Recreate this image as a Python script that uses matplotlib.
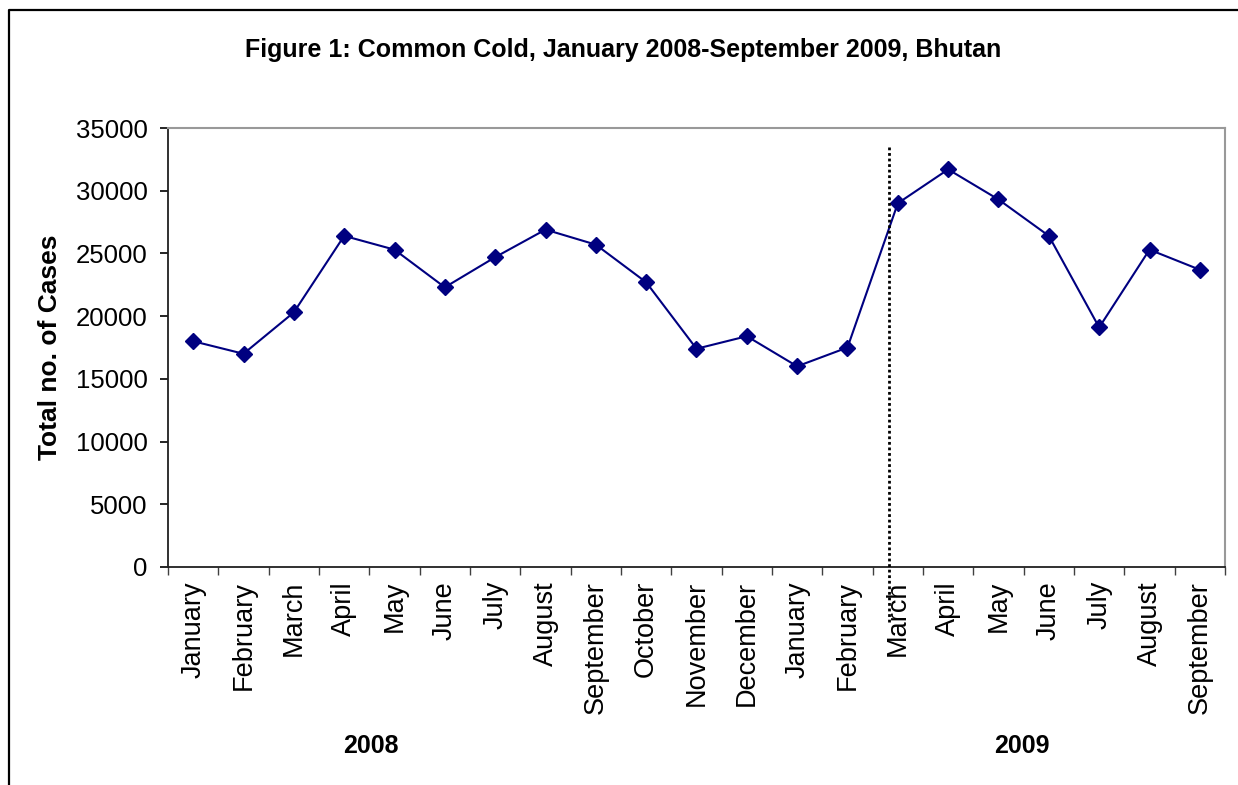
import matplotlib.pyplot as plt
from matplotlib.lines import Line2D
import numpy as np

plt.rcParams["font.family"] = ["Liberation Sans", "DejaVu Sans"]

# Monthly common cold cases, Jan 2008 - Sep 2009
months = [
    "January", "February", "March", "April", "May", "June", "July",
    "August", "September", "October", "November", "December",
    "January", "February", "March", "April", "May", "June", "July",
    "August", "September",
]
cases = [
    18000, 17000, 20300, 26400, 25300, 22300, 24700, 26900, 25700, 22700,
    17400, 18400, 16000, 17500, 29000, 31700, 29300, 26400, 19100, 25300,
    23700,
]
year_labels = ["2008", "2009"]
yticks = list(range(0, 35001, 5000))

W, H = 1238, 785
fig = plt.figure(figsize=(W / 100, H / 100), dpi=100)
ax = fig.add_axes([168 / W, 1 - 567 / H, (1225 - 168) / W, (567 - 128) / H])

x = np.arange(len(months))
ax.plot(x, cases, color="#000080", lw=1.5, marker="D", markersize=8,
        markerfacecolor="#000080", markeredgecolor="#000080", zorder=3)

# separator between the two years, running down through the tick labels
ax.plot([13.83, 13.83], [33500, -4450], color="black", lw=2,
        linestyle=(0, (1, 1)), clip_on=False, zorder=4)

ax.set_xlim(-0.5, len(months) - 0.5)
ax.set_ylim(0, 35000)
ax.set_yticks(yticks)
ax.set_yticklabels([str(v) for v in yticks], fontsize=18.5)
ax.tick_params(axis="y", direction="out", length=6, width=1.2, pad=8.5)

# category boundaries carry the tick marks, centres carry the labels
ax.set_xticks(np.arange(-0.5, len(months)), minor=False)
ax.set_xticklabels([])
ax.set_xticks(x, minor=True)
ax.set_xticklabels(months, minor=True, rotation=90, fontsize=19.5,
                   va="top", ha="center")
ax.tick_params(axis="x", which="major", direction="out", length=6,
               width=1.0, color="#404040")
ax.tick_params(axis="x", which="minor", length=0, pad=10)

for side in ("top", "right"):
    ax.spines[side].set_color("#999999")
    ax.spines[side].set_linewidth(1.5)
for side in ("left", "bottom"):
    ax.spines[side].set_color("#202020")
    ax.spines[side].set_linewidth(1.3)

ax.set_ylabel("Total no. of Cases", fontsize=19, fontweight="bold",
              labelpad=0)
ax.yaxis.set_label_coords(-106 / (1225 - 168), 0.5)

fig.text(623 / W, 1 - 50 / H,
         "Figure 1: Common Cold, January 2008-September 2009, Bhutan",
         ha="center", va="center", fontsize=18, fontweight="bold")
fig.text(371 / W, 1 - 746 / H, year_labels[0], ha="center", va="center",
         fontsize=18, fontweight="bold")
fig.text(1022 / W, 1 - 746 / H, year_labels[1], ha="center", va="center",
         fontsize=18, fontweight="bold")

# outer chart frame (left and top edges)
fig.add_artist(Line2D([8.5 / W, 8.5 / W, 1], [0, 1 - 9.5 / H, 1 - 9.5 / H],
                      transform=fig.transFigure, color="black", lw=1.6))

fig.savefig("out.png", dpi=100)
